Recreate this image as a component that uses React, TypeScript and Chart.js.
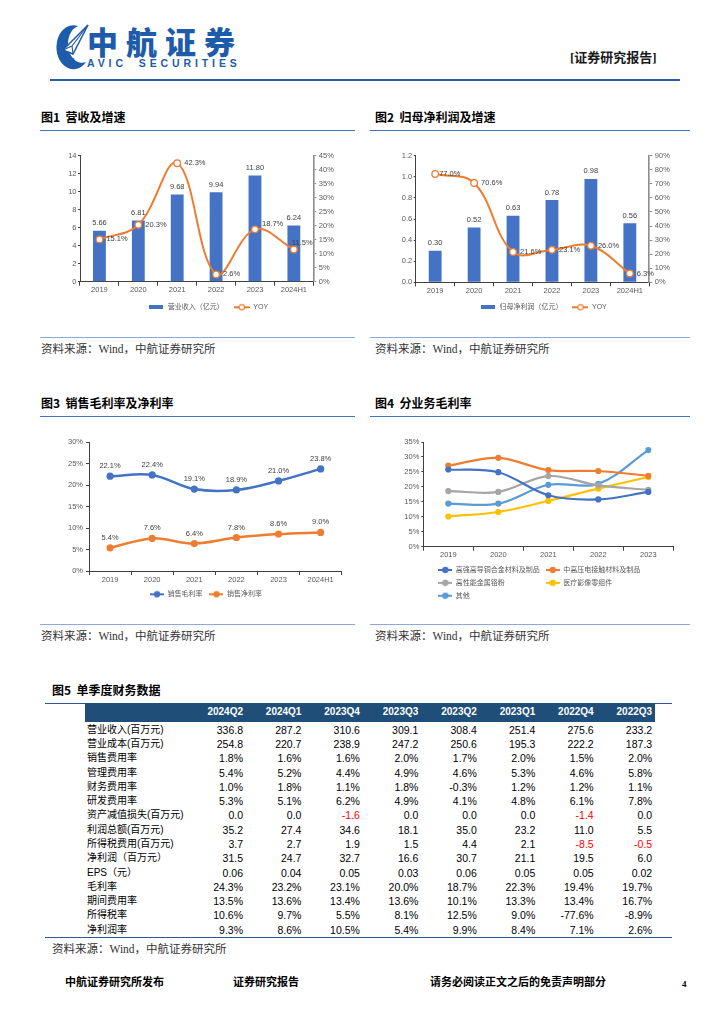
import React, { useEffect, useRef } from 'react';
import { Chart, registerables } from 'chart.js';

Chart.register(...registerables);

const F = "'Liberation Sans', 'Noto Sans CJK SC', sans-serif";
const CJK = "'Noto Sans CJK SC', sans-serif";
const SERIF = "'Liberation Serif', 'Noto Sans CJK SC', serif";
Chart.defaults.font.family = F;
Chart.defaults.color = '#595959';

// ---------------- data ----------------
const years6 = ['2019', '2020', '2021', '2022', '2023', '2024H1'];
const years5 = ['2019', '2020', '2021', '2022', '2023'];

const revenue = [5.66, 6.81, 9.68, 9.94, 11.8, 6.24];
const revenueYoY = [15.1, 20.3, 42.3, 2.6, 18.7, 11.5];

const parentProfit = [0.3, 0.52, 0.63, 0.78, 0.98, 0.56];
const parentProfitYoY = [77.0, 70.6, 21.6, 23.1, 26.0, 6.3];

const grossMargin = [22.1, 22.4, 19.1, 18.9, 21.0, 23.8];
const netMargin = [5.4, 7.6, 6.4, 7.8, 8.6, 9.0];

const segNames = ['高强高导铜合金材料及制品', '中高压电接触材料及制品', '高性能金属铬粉', '医疗影像零组件', '其他'];
const segCopper = [25.8, 24.9, 17.2, 15.8, 18.3];
const segContact = [27.1, 29.7, 25.6, 25.3, 23.7];
const segChrome = [18.6, 18.3, 23.6, 20.5, 19.0];
const segMedical = [10.1, 11.6, 15.3, 19.4, 23.3];
const segOther = [14.4, 14.4, 20.7, 21.0, 32.3];

const quarters = ['2024Q2', '2024Q1', '2023Q4', '2023Q3', '2023Q2', '2023Q1', '2022Q4', '2022Q3'];
const rowLabels = [
  '营业收入(百万元)', '营业成本(百万元)', '销售费用率', '管理费用率', '财务费用率', '研发费用率',
  '资产减值损失(百万元)', '利润总额(百万元)', '所得税费用(百万元)', '净利润（百万元）', 'EPS（元）',
  '毛利率', '期间费用率', '所得税率', '净利润率',
];
const rowValues = [
  ['336.8', '287.2', '310.6', '309.1', '308.4', '251.4', '275.6', '233.2'],
  ['254.8', '220.7', '238.9', '247.2', '250.6', '195.3', '222.2', '187.3'],
  ['1.8%', '1.6%', '1.6%', '2.0%', '1.7%', '2.0%', '1.5%', '2.0%'],
  ['5.4%', '5.2%', '4.4%', '4.9%', '4.6%', '5.3%', '4.6%', '5.8%'],
  ['1.0%', '1.8%', '1.1%', '1.8%', '-0.3%', '1.2%', '1.2%', '1.1%'],
  ['5.3%', '5.1%', '6.2%', '4.9%', '4.1%', '4.8%', '6.1%', '7.8%'],
  ['0.0', '0.0', '-1.6', '0.0', '0.0', '0.0', '-1.4', '0.0'],
  ['35.2', '27.4', '34.6', '18.1', '35.0', '23.2', '11.0', '5.5'],
  ['3.7', '2.7', '1.9', '1.5', '4.4', '2.1', '-8.5', '-0.5'],
  ['31.5', '24.7', '32.7', '16.6', '30.7', '21.1', '19.5', '6.0'],
  ['0.06', '0.04', '0.05', '0.03', '0.06', '0.05', '0.05', '0.02'],
  ['24.3%', '23.2%', '23.1%', '20.0%', '18.7%', '22.3%', '19.4%', '19.7%'],
  ['13.5%', '13.6%', '13.4%', '13.6%', '10.1%', '13.3%', '13.4%', '16.7%'],
  ['10.6%', '9.7%', '5.5%', '8.1%', '12.5%', '9.0%', '-77.6%', '-8.9%'],
  ['9.3%', '8.6%', '10.5%', '5.4%', '9.9%', '8.4%', '7.1%', '2.6%'],
];

// ---------------- styles ----------------
const BLUE = '#4472C4';
const ORANGE = '#ED7D31';
const GRAY = '#A5A5A5';
const YELLOW = '#FFC000';
const LBLUE = '#5B9BD5';
const AXIS = '#404040';
const AXIS2 = '#8C8C8C';
const TICK_FONT = 7.5;

let mctx: CanvasRenderingContext2D | null = null;
function textW(t: string, size: number) {
  if (!mctx) mctx = document.createElement('canvas').getContext('2d');
  mctx!.font = `${size}px ${F}`;
  return mctx!.measureText(t).width;
}

function swatch(w: number, h: number, draw: (c: CanvasRenderingContext2D) => void) {
  const c = document.createElement('canvas');
  c.width = w;
  c.height = h;
  draw(c.getContext('2d')!);
  return c;
}
const barSwatch = (color: string) =>
  swatch(14, 4, (c) => {
    c.fillStyle = color;
    c.fillRect(0, 0, 14, 4);
  });
const lineSwatch = (color: string, w: number, filled: boolean) =>
  swatch(w, 8, (c) => {
    c.strokeStyle = color;
    c.lineWidth = 2;
    c.beginPath();
    c.moveTo(0, 4);
    c.lineTo(w, 4);
    c.stroke();
    c.beginPath();
    c.arc(w / 2, 4, 2.7, 0, Math.PI * 2);
    c.fillStyle = filled ? color : '#fff';
    c.fill();
    c.lineWidth = 1.2;
    c.stroke();
  });

const dataLabels = {
  id: 'dataLabels',
  afterDatasetsDraw(chart: any) {
    const ctx = chart.ctx;
    chart.data.datasets.forEach((ds: any, i: number) => {
      const cfg = ds.dl;
      if (!cfg) return;
      const meta = chart.getDatasetMeta(i);
      meta.data.forEach((el: any, j: number) => {
        const off = (cfg.offsets && cfg.offsets[j]) || [0, 0];
        ctx.save();
        ctx.font = `${TICK_FONT}px ${F}`;
        ctx.fillStyle = '#404040';
        ctx.textAlign = cfg.align || 'center';
        ctx.textBaseline = 'middle';
        ctx.fillText(cfg.fmt(ds.data[j]), el.x + (cfg.dx || 0) + off[0], el.y + (cfg.dy || 0) + off[1]);
        ctx.restore();
      });
    });
  },
};

const alignLegendRows = {
  id: 'alignLegendRows',
  beforeDraw(chart: any) {
    const lg = chart.legend;
    if (chart.options.plugins.alignLegendRows && lg && lg.lineWidths && lg.lineWidths.length) {
      const w = lg.lineWidths[0];
      for (let i = 0; i < lg.lineWidths.length; i++) lg.lineWidths[i] = w;
    }
  },
};

interface Geo {
  left: number; top: number; width: number; height: number;
  plotL: number; plotR: number; plotT: number; plotB: number;
  legendY: number; legendX: number; rows: number; font: number; lp: number; boxW: number;
  row1: string[];
}

// works out layout paddings and axis widths so that the plot area and legend land where wanted
function solve(g: Geo) {
  const iws = g.row1.map((t) => g.boxW + g.font / 2 + textW(t, g.font));
  const lw = iws.reduce((a, b) => a + b, 0) + g.row1.length * g.lp;
  const startC = g.legendX - g.left;
  const D = 2 * startC - g.lp - g.width + lw;
  const pl = D >= 0 ? D : 0;
  const pr = D >= 0 ? 0 : -D;
  const legendTop = g.legendY - g.top - g.lp - g.font / 2;
  const legendH = g.rows * (g.font + g.lp) + 10;
  return {
    padding: { left: pl, right: pr, top: g.plotT - g.top, bottom: g.height - legendTop - legendH },
    xH: legendTop - (g.plotB - g.top),
    leftW: g.plotL - g.left - pl,
    rightW: g.width - pr - (g.plotR - g.left),
  };
}

function axisY(o: any) {
  return {
    type: 'linear',
    position: o.pos,
    min: o.min,
    max: o.max,
    ticks: { stepSize: o.step, callback: o.fmt, font: { size: TICK_FONT }, color: '#595959', padding: o.pad },
    grid: { display: true, drawOnChartArea: false, drawTicks: true, tickLength: o.tl, tickColor: o.color, tickWidth: 1 },
    border: { display: true, color: o.color, width: o.bw },
    afterFit: (s: any) => {
      s.width = o.w;
    },
  };
}

function spacerY(w: number) {
  return {
    type: 'linear',
    position: 'right',
    display: true,
    grid: { display: false, drawTicks: false },
    border: { display: false },
    ticks: { display: false },
    afterFit: (s: any) => {
      s.width = w;
    },
  };
}

function axisX(h: number) {
  return {
    type: 'category',
    offset: true,
    grid: { display: true, offset: true, drawOnChartArea: false, drawTicks: true, tickLength: 4, tickColor: AXIS },
    border: { display: true, color: AXIS, width: 1 },
    ticks: { font: { size: TICK_FONT }, color: '#595959', padding: 0, autoSkip: false, maxRotation: 0 },
    afterFit: (s: any) => {
      s.height = h;
    },
  };
}

function legendCfg(g: Geo, imgs: any[], texts?: string[]) {
  return {
    display: true,
    position: 'bottom',
    labels: {
      usePointStyle: true,
      pointStyleWidth: g.boxW,
      font: { size: g.font },
      color: '#595959',
      padding: g.lp,
      generateLabels: (chart: any) => {
        const items = (Chart.defaults.plugins.legend.labels as any).generateLabels(chart);
        items.sort((a: any, b: any) => a.datasetIndex - b.datasetIndex);
        items.forEach((it: any) => {
          it.pointStyle = imgs[it.datasetIndex];
          if (texts) it.text = texts[it.datasetIndex];
        });
        return items;
      },
    },
  };
}

const pct = (v: any) => v + '%';

// ---------------- chart geometry ----------------
const g1: Geo = {
  left: 40, top: 132, width: 316, height: 204,
  plotL: 80, plotR: 313.3, plotT: 155.7, plotB: 281.7,
  legendY: 307.3, legendX: 148.3, rows: 1, font: 7, lp: 10, boxW: 16,
  row1: ['营业收入（亿元）', 'YOY'],
};
const g2: Geo = {
  left: 370, top: 132, width: 320, height: 204,
  plotL: 415.7, plotR: 649.3, plotT: 155.7, plotB: 282.3,
  legendY: 307.3, legendX: 480, rows: 1, font: 7, lp: 10, boxW: 16,
  row1: ['归母净利润（亿元）', 'YOY'],
};
const g3: Geo = {
  left: 40, top: 418, width: 316, height: 205,
  plotL: 89, plotR: 341.7, plotT: 442.3, plotB: 571,
  legendY: 594.3, legendX: 150, rows: 1, font: 7, lp: 7, boxW: 14,
  row1: ['销售毛利率', '销售净利率'],
};
const SP = '\u3000';
const seg4Texts = [
  segNames[0],
  segNames[1],
  segNames[2] + SP.repeat(5),
  segNames[3] + SP.repeat(4),
  segNames[4] + SP.repeat(24),
];
const g4: Geo = {
  left: 370, top: 418, width: 320, height: 205,
  plotL: 423.3, plotR: 673.3, plotT: 442, plotB: 546.7,
  legendY: 570, legendX: 438.3, rows: 3, font: 7, lp: 5.85, boxW: 14,
  row1: [seg4Texts[0], seg4Texts[1]],
};

function barLineConfig(g: Geo, labels: string[], bars: number[], yoy: number[], o: any) {
  const L = solve(g);
  return {
    type: 'bar',
    data: {
      labels,
      datasets: [
        {
          type: 'bar', label: o.barLabel, data: bars, backgroundColor: BLUE, yAxisID: 'y',
          barPercentage: 0.33, categoryPercentage: 1, order: 1,
          dl: { fmt: (v: number) => v.toFixed(2), dy: -7.5 },
        },
        {
          type: 'line', label: 'YOY', data: yoy, yAxisID: 'y1', borderColor: ORANGE, borderWidth: 2,
          pointRadius: 3.3, pointBackgroundColor: '#fff', pointBorderColor: ORANGE, pointBorderWidth: 1.3,
          tension: 0.38, order: 0,
          dl: { fmt: (v: number) => v.toFixed(1) + '%', align: 'left', dx: 7, offsets: o.yoyOffsets },
        },
      ],
    },
    options: {
      responsive: false, maintainAspectRatio: false, animation: false, events: [],
      layout: { padding: L.padding },
      plugins: { legend: legendCfg(g, [barSwatch(BLUE), lineSwatch(ORANGE, 16, false)], g.row1), tooltip: { enabled: false } },
      scales: {
        x: axisX(L.xH),
        y: axisY({ pos: 'left', min: 0, max: o.max, step: o.step, fmt: o.fmt, w: L.leftW, color: AXIS, bw: 1, tl: 2, pad: 1.5 }),
        y1: axisY({ pos: 'right', min: 0, max: o.max2, step: o.step2, fmt: pct, w: L.rightW, color: AXIS2, bw: 1.6, tl: 3, pad: 2.5 }),
      },
    },
    plugins: [dataLabels],
  };
}

function config1() {
  return barLineConfig(g1, years6, revenue, revenueYoY, {
    barLabel: '营业收入（亿元）', max: 14, step: 2, fmt: (v: any) => String(v), max2: 45, step2: 5,
    yoyOffsets: { 4: [0, -5], 5: [-9, -7] },
  });
}
function config2() {
  return barLineConfig(g2, years6, parentProfit, parentProfitYoY, {
    barLabel: '归母净利润（亿元）', max: 1.2, step: 0.2, fmt: (v: any) => Number(v).toFixed(1), max2: 90, step2: 10,
    yoyOffsets: { 0: [-3, 0] },
  });
}

function lineDs(label: string, data: number[], color: string, width: number, r: number, dl?: any) {
  return {
    label, data, borderColor: color, backgroundColor: color, borderWidth: width,
    pointRadius: r, pointBackgroundColor: color, pointBorderColor: color, pointBorderWidth: 0,
    tension: 0.35, dl,
  };
}

function config3() {
  const L = solve(g3);
  const lab = { fmt: (v: number) => v.toFixed(1) + '%', dy: -10 };
  return {
    type: 'line',
    data: {
      labels: years6,
      datasets: [
        lineDs('销售毛利率', grossMargin, BLUE, 2.5, 3.6, lab),
        lineDs('销售净利率', netMargin, ORANGE, 2.5, 3.6, lab),
      ],
    },
    options: {
      responsive: false, maintainAspectRatio: false, animation: false, events: [],
      layout: { padding: L.padding },
      plugins: { legend: legendCfg(g3, [lineSwatch(BLUE, 14, true), lineSwatch(ORANGE, 14, true)]), tooltip: { enabled: false } },
      scales: {
        x: axisX(L.xH),
        y: axisY({ pos: 'left', min: 0, max: 30, step: 5, fmt: pct, w: L.leftW, color: AXIS, bw: 1, tl: 3, pad: 3 }),
        yr: spacerY(L.rightW),
      },
    },
    plugins: [dataLabels],
  };
}

function config4() {
  const L = solve(g4);
  const colors = [BLUE, ORANGE, GRAY, YELLOW, LBLUE];
  const series = [segCopper, segContact, segChrome, segMedical, segOther];
  return {
    type: 'line',
    data: {
      labels: years5,
      datasets: series.map((s, i) => lineDs(segNames[i], s, colors[i], 2.2, 3.1)),
    },
    options: {
      responsive: false, maintainAspectRatio: false, animation: false, events: [],
      layout: { padding: L.padding },
      plugins: {
        legend: legendCfg(g4, colors.map((c) => lineSwatch(c, 14, true)), seg4Texts),
        tooltip: { enabled: false },
        alignLegendRows: true,
      },
      scales: {
        x: axisX(L.xH),
        y: axisY({ pos: 'left', min: 0, max: 35, step: 5, fmt: pct, w: L.leftW, color: AXIS, bw: 1, tl: 2, pad: 2 }),
        yr: spacerY(L.rightW),
      },
    },
    plugins: [alignLegendRows],
  };
}

function ChartCanvas({ g, make }: { g: Geo; make: () => any }) {
  const ref = useRef<HTMLCanvasElement>(null);
  useEffect(() => {
    const chart = new Chart(ref.current as HTMLCanvasElement, make());
    return () => chart.destroy();
  }, []);
  return (
    <div style={{ position: 'absolute', left: g.left, top: g.top, width: g.width, height: g.height }}>
      <canvas ref={ref} width={g.width} height={g.height} style={{ width: g.width, height: g.height, display: 'block' }} />
    </div>
  );
}

function Txt(p: { x: number; y: number; children: any; size: number; font?: string; weight?: any; color?: string; ls?: number; ws?: number }) {
  return (
    <div
      style={{
        position: 'absolute', left: p.x, top: p.y - p.size, height: p.size * 2, lineHeight: `${p.size * 2}px`,
        fontSize: p.size, fontFamily: p.font || CJK, fontWeight: p.weight || 400, color: p.color || '#000',
        whiteSpace: 'pre', letterSpacing: p.ls || 0, wordSpacing: p.ws || 0,
      }}
    >
      {p.children}
    </div>
  );
}

function HLine({ x, y, w, h, color }: { x: number; y: number; w: number; h: number; color: string }) {
  return <div style={{ position: 'absolute', left: x, top: y, width: w, height: h, background: color }} />;
}

const COL_RIGHT0 = 243;
const COL_STEP = 58.45;
const ROW_TOP0 = 722.7;
const ROW_H = 14.28;

export default function App() {
  return (
    <div style={{ position: 'absolute', left: 0, top: 0, width: 724, height: 1024, background: '#fff', overflow: 'hidden' }}>
      {/* header */}
      <svg style={{ position: 'absolute', left: 54, top: 21 }} width={36} height={52} viewBox="0 0 36 52">
        <path d="M 24 5 A 17 22 0 1 0 32 41 A 13.5 18 0 1 1 24 5 Z" fill="#1E5BAA" />
        <polygon points="9,29 34,4 19,33" fill="#fff" stroke="#1E5BAA" strokeWidth="1.5" />
        <polyline points="9,29 18,25 34,4" fill="none" stroke="#1E5BAA" strokeWidth="1.1" />
        <polyline points="18,25 19,33" fill="none" stroke="#1E5BAA" strokeWidth="1.1" />
        <text x="10" y="41" fontSize="4.5" fill="#1E5BAA" fontFamily="Liberation Sans" fontWeight="bold">AVIC</text>
      </svg>
      <Txt x={87} y={41} size={31} weight={900} color="#1E5BAA" ls={8}>中航证券</Txt>
      <Txt x={87} y={63} size={10.5} font={F} weight={700} color="#1E5BAA" ls={3.9} ws={5}>AVIC SECURITIES</Txt>
      <Txt x={570} y={58} size={13} font={SERIF} weight={700} color="#1a1a1a">[证券研究报告]</Txt>
      <HLine x={50} y={79} w={630} h={2} color="#2C5CA8" />

      {/* chart titles */}
      <Txt x={41} y={117} size={12} weight={700}>图1  营收及增速</Txt>
      <Txt x={375} y={117} size={12} weight={700}>图2  归母净利润及增速</Txt>
      <HLine x={40} y={129.5} w={315} h={1.4} color="#4472C4" />
      <HLine x={370} y={129.5} w={320} h={1.4} color="#4472C4" />
      <ChartCanvas g={g1} make={config1} />
      <ChartCanvas g={g2} make={config2} />
      <HLine x={40} y={337} w={315} h={1.2} color="#8FA9D6" />
      <HLine x={370} y={337} w={320} h={1.2} color="#8FA9D6" />
      <Txt x={41} y={349} size={11.5} font={SERIF} color="#333">资料来源：Wind，中航证券研究所</Txt>
      <Txt x={375} y={349} size={11.5} font={SERIF} color="#333">资料来源：Wind，中航证券研究所</Txt>

      <Txt x={41} y={403} size={12} weight={700}>图3  销售毛利率及净利率</Txt>
      <Txt x={375} y={403} size={12} weight={700}>图4  分业务毛利率</Txt>
      <HLine x={40} y={415.5} w={315} h={1.4} color="#4472C4" />
      <HLine x={370} y={415.5} w={320} h={1.4} color="#4472C4" />
      <ChartCanvas g={g3} make={config3} />
      <ChartCanvas g={g4} make={config4} />
      <HLine x={40} y={624} w={315} h={1.2} color="#8FA9D6" />
      <HLine x={370} y={624} w={320} h={1.2} color="#8FA9D6" />
      <Txt x={41} y={636.5} size={11.5} font={SERIF} color="#333">资料来源：Wind，中航证券研究所</Txt>
      <Txt x={375} y={636.5} size={11.5} font={SERIF} color="#333">资料来源：Wind，中航证券研究所</Txt>

      {/* table */}
      <Txt x={52} y={690} size={12} weight={700}>图5  单季度财务数据</Txt>
      <HLine x={45} y={703} w={627} h={1.2} color="#2F5597" />
      <div style={{ position: 'absolute', left: 85, top: 703.3, width: 570, height: 18.7, background: '#1F4E79' }} />
      {quarters.map((q, i) => (
        <div
          key={q}
          style={{
            position: 'absolute', left: COL_RIGHT0 + i * COL_STEP - 58, top: 703.3, width: 58, height: 18.7,
            lineHeight: '18.7px', textAlign: 'right', color: '#fff', fontWeight: 700, fontSize: 10, fontFamily: F,
          }}
        >
          {q}
        </div>
      ))}
      {rowLabels.map((lab, r) => (
        <React.Fragment key={lab}>
          <div
            style={{
              position: 'absolute', left: 87, top: ROW_TOP0 + r * ROW_H, height: ROW_H, lineHeight: `${ROW_H}px`,
              fontSize: 10, fontFamily: F, color: '#000', whiteSpace: 'pre',
            }}
          >
            {lab}
          </div>
          {rowValues[r].map((v, c) => (
            <div
              key={c}
              style={{
                position: 'absolute', left: COL_RIGHT0 + c * COL_STEP - 58, top: ROW_TOP0 + r * ROW_H, width: 58,
                height: ROW_H, lineHeight: `${ROW_H}px`, textAlign: 'right', fontSize: 10.5, fontFamily: F,
                color: v.startsWith('-') && !v.endsWith('%') ? '#FF0000' : '#000',
              }}
            >
              {v}
            </div>
          ))}
        </React.Fragment>
      ))}
      <HLine x={45} y={937} w={627} h={1.2} color="#2F5597" />
      <Txt x={52} y={949} size={11.5} font={SERIF} color="#333">资料来源：Wind，中航证券研究所</Txt>

      {/* footer */}
      <Txt x={65} y={982} size={11} font={SERIF} weight={700}>中航证券研究所发布</Txt>
      <Txt x={233} y={982} size={11} font={SERIF} weight={700}>证券研究报告</Txt>
      <Txt x={430} y={982} size={11} font={SERIF} weight={700}>请务必阅读正文之后的免责声明部分</Txt>
      <Txt x={682} y={984} size={9} font={SERIF} weight={700}>4</Txt>
    </div>
  );
}
